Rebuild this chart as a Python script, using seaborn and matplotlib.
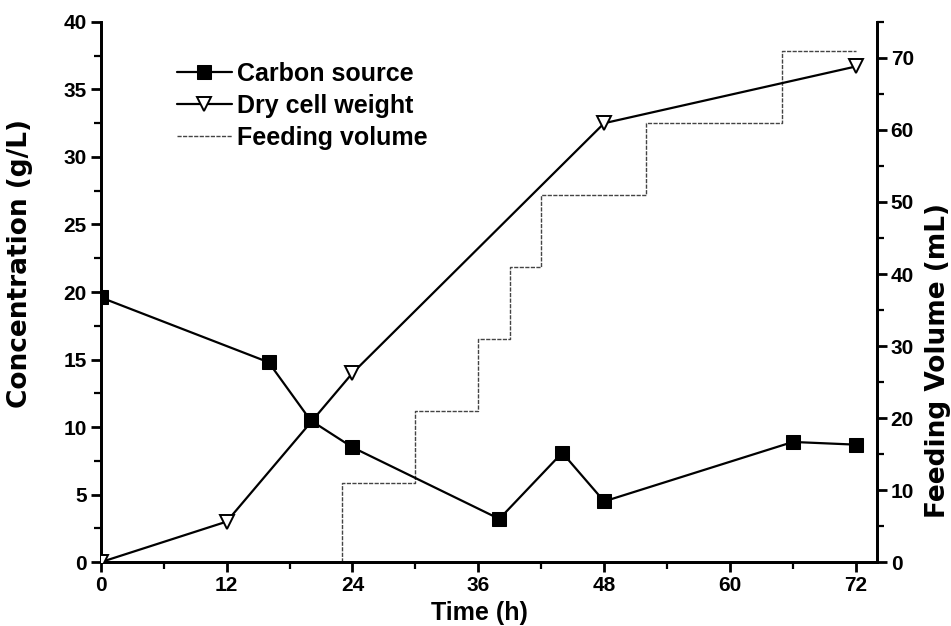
import matplotlib
matplotlib.use("Agg")
import matplotlib.pyplot as plt
from matplotlib.ticker import MultipleLocator
import seaborn as sns
import pandas as pd

# Carbon source concentration (g/L)
carbon_time = [0, 16, 20, 24, 38, 44, 48, 66, 72]
carbon_conc = [19.6, 14.8, 10.5, 8.5, 3.2, 8.1, 4.5, 8.9, 8.7]

# Dry cell weight (g/L)
dcw_time = [0, 12, 24, 48, 72]
dcw_conc = [0.0, 3.0, 14.0, 32.5, 36.7]

# Cumulative feeding volume (mL), stepwise additions
feed_time = [23, 23, 30, 36, 39, 42, 52, 65, 72]
feed_volume = [0, 11, 21, 31, 41, 51, 61, 71, 71]

x_ticks = [0, 12, 24, 36, 48, 60, 72]

sns.set_theme(style="ticks")
plt.rcParams["font.family"] = ["Liberation Sans", "DejaVu Sans"]
plt.rcParams["font.weight"] = "bold"
plt.rcParams["text.color"] = "black"
plt.rcParams["axes.labelcolor"] = "black"

fig = plt.figure(figsize=(9.51, 6.26), dpi=100)
ax = fig.add_axes([0.106, 0.102, 0.816, 0.863])
ax2 = ax.twinx()

carbon_df = pd.DataFrame({"t": carbon_time, "c": carbon_conc})
dcw_df = pd.DataFrame({"t": dcw_time, "c": dcw_conc})
feed_df = pd.DataFrame({"t": feed_time, "v": feed_volume})

sns.lineplot(data=feed_df, x="t", y="v", ax=ax2, color="#444444", lw=1.0,
             linestyle=(0, (3, 1)), drawstyle="steps-post",
             estimator=None, sort=False, zorder=1)
sns.lineplot(data=carbon_df, x="t", y="c", ax=ax, color="black", lw=1.6,
             marker="s", markersize=9.5, markeredgecolor="black",
             markerfacecolor="black", estimator=None, zorder=3)
sns.lineplot(data=dcw_df, x="t", y="c", ax=ax, color="black", lw=1.6,
             marker="v", markersize=10, markeredgecolor="black",
             markerfacecolor="white", markeredgewidth=1.4,
             estimator=None, zorder=3)

ax.set_zorder(ax2.get_zorder() + 1)
ax.patch.set_visible(False)

ax.set_xlim(0, 74)
ax.set_ylim(0, 40)
ax2.set_ylim(0, 75)
ax.set_xticks(x_ticks)
ax.xaxis.set_minor_locator(MultipleLocator(6))
ax.yaxis.set_major_locator(MultipleLocator(5))
ax.yaxis.set_minor_locator(MultipleLocator(2.5))
ax2.set_yticks(range(0, 71, 10))
ax2.yaxis.set_minor_locator(MultipleLocator(5))

for a in (ax, ax2):
    for s in a.spines.values():
        s.set_linewidth(2.0)
        s.set_color("black")
    a.spines["top"].set_visible(False)
    a.tick_params(which="major", direction="out", length=7, width=2,
                  labelsize=15, colors="black", pad=3)
    a.tick_params(which="minor", direction="out", length=5, width=1.6,
                  colors="black")
    for lab in a.get_xticklabels() + a.get_yticklabels():
        lab.set_fontweight("bold")

ax.set_xlabel("Time (h)", fontsize=18, fontweight="bold")
ax.set_ylabel("Concentration (g/L)", fontsize=19, fontweight="bold",
              family=["DejaVu Sans"])
ax2.set_ylabel("Feeding Volume (mL)", fontsize=19, fontweight="bold",
               family=["DejaVu Sans"], rotation=90)
ax.xaxis.set_label_coords(0.488, -0.072)
ax.yaxis.set_label_coords(-0.087, 0.552)
ax2.yaxis.set_label_coords(1.062, 0.374)

handles = [ax.lines[0], ax.lines[1], ax2.lines[0]]
labels = ["Carbon source", "Dry cell weight", "Feeding volume"]
leg = ax.legend(handles, labels, loc="upper left", bbox_to_anchor=(0.085, 0.945),
                frameon=False, fontsize=18, handlelength=2.2, handletextpad=0.2,
                labelspacing=0.32, borderaxespad=0)
for t in leg.get_texts():
    t.set_fontweight("bold")

fig.savefig("out.png", dpi=100)
